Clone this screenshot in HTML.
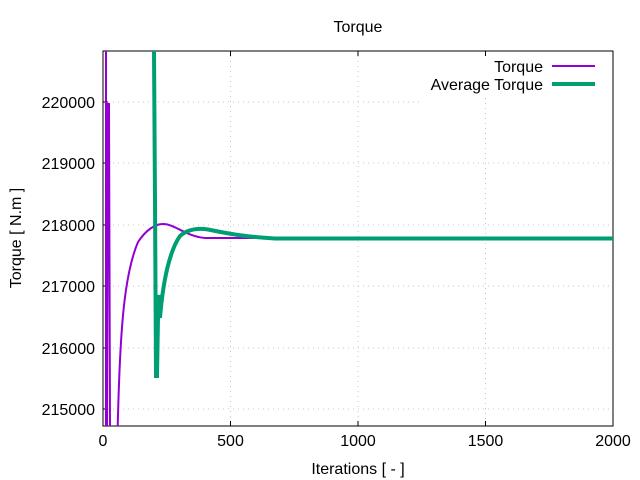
<!DOCTYPE html>
<html><head><style>body{margin:0;background:#fff}svg{display:block}text{font-family:"Liberation Sans",sans-serif;font-size:16px;fill:#000}</style></head><body>
<svg width="640" height="480" xmlns="http://www.w3.org/2000/svg">
<g stroke="#c8c8c8" stroke-dasharray="1,4" stroke-width="1">
<line x1="103" y1="409" x2="613" y2="409"/><line x1="103" y1="348" x2="613" y2="348"/><line x1="103" y1="286" x2="613" y2="286"/><line x1="103" y1="225" x2="613" y2="225"/><line x1="103" y1="163" x2="613" y2="163"/><line x1="103" y1="102" x2="420" y2="102"/>
<line x1="230.5" y1="51" x2="230.5" y2="426"/><line x1="358" y1="51" x2="358" y2="426"/><line x1="485.5" y1="98" x2="485.5" y2="426"/>
</g>
<rect x="103" y="51" width="510" height="375" fill="none" stroke="#000"/>
<g stroke="#000">
<line x1="103" y1="409" x2="108" y2="409"/><line x1="103" y1="348" x2="108" y2="348"/><line x1="103" y1="286" x2="108" y2="286"/><line x1="103" y1="225" x2="108" y2="225"/><line x1="103" y1="163" x2="108" y2="163"/><line x1="103" y1="102" x2="108" y2="102"/>
<line x1="230.5" y1="426" x2="230.5" y2="421"/><line x1="358" y1="426" x2="358" y2="421"/><line x1="485.5" y1="426" x2="485.5" y2="421"/>
<line x1="230.5" y1="51" x2="230.5" y2="56"/><line x1="358" y1="51" x2="358" y2="56"/><line x1="485.5" y1="51" x2="485.5" y2="56"/>
</g>
<g text-anchor="end"><text x="95" y="415">215000</text><text x="95" y="354">216000</text><text x="95" y="292">217000</text><text x="95" y="231">218000</text><text x="95" y="169">219000</text><text x="95" y="108">220000</text></g>
<g text-anchor="middle"><text x="103" y="446">0</text><text x="230.5" y="446">500</text><text x="358" y="446">1000</text><text x="485.5" y="446">1500</text><text x="613" y="446">2000</text>
<text x="358" y="32">Torque</text><text x="358" y="474">Iterations [ - ]</text>
<text transform="translate(21,238) rotate(-90)">Torque [ N.m ]</text></g>
<g text-anchor="end"><text x="543" y="72">Torque</text><text x="543" y="90">Average Torque</text></g>
<line x1="552" y1="66" x2="595" y2="66" stroke="#9400d3" stroke-width="2"/>
<line x1="552" y1="84" x2="595" y2="84" stroke="#009e73" stroke-width="4"/>
<svg x="103" y="51" width="510" height="375" overflow="hidden">
<g transform="translate(-103,-51)">
<polyline fill="none" stroke="#9400d3" stroke-width="2" points="106,51 106,427 107,427 108,104 109,104 110,427"/>
<path fill="none" stroke="#9400d3" stroke-width="2" d="M117.7,427 C120,330 124,275 138,242 C146,230 155,224 163,224 C175,224 185,236 205,238 L613,238.5"/>
<path fill="none" stroke="#009e73" stroke-width="4" d="M154,51 L155,200 L156,376 L157,376 L158,318 L159,295 L160,318 C163,280 170,250 180,236 C188,229 198,228 208,229.5 C225,233 245,237 275,238.5 L613,238.5"/>
</g></svg>
</svg>
</body></html>
